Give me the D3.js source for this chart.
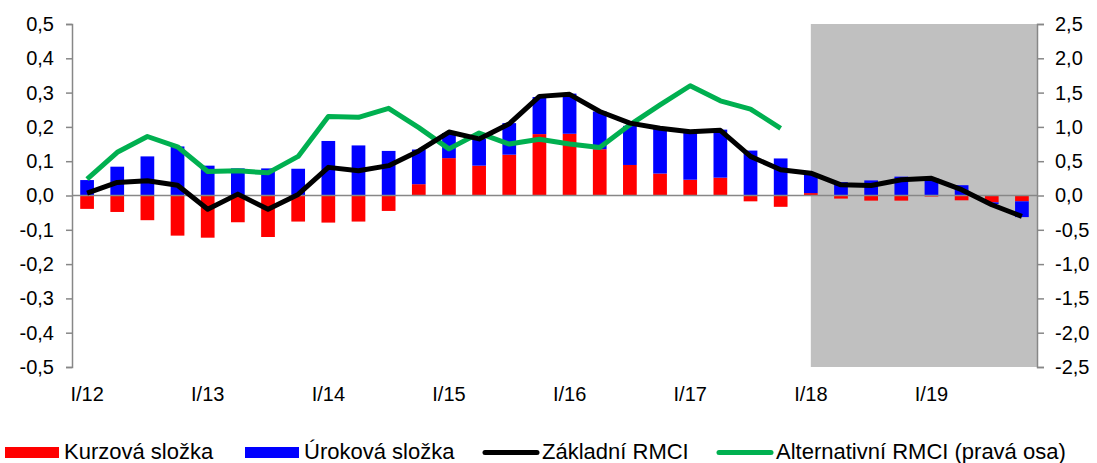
<!DOCTYPE html>
<html>
<head>
  <meta charset="utf-8">
  <title>RMCI</title>
  <script src="https://d3js.org/d3.v7.min.js"></script>
  <style>
    body { margin: 0; background: #fff; }
    text { font-family: "Liberation Sans", Arial, sans-serif; fill: #000; }
  </style>
</head>
<body>
  <script>
    // ctvrtleti I/12 .. IV/19
    var kvartaly = d3.range(32);
    var popisky = ['I/12', 'I/13', 'I/14', 'I/15', 'I/16', 'I/17', 'I/18', 'I/19'];
    var kurzova = [-0.039, -0.048, -0.072, -0.117, -0.123, -0.078, -0.121, -0.076, -0.079, -0.076, -0.045, 0.033,
      0.109, 0.087, 0.119, 0.179, 0.180, 0.135, 0.089, 0.064, 0.046, 0.052, -0.017, -0.033,
      0.007, -0.009, -0.015, -0.015, -0.003, -0.014, -0.020, -0.017];
    var urokova = [0.045, 0.084, 0.114, 0.143, 0.087, 0.079, 0.079, 0.078, 0.159, 0.146, 0.130, 0.101,
      0.073, 0.078, 0.092, 0.108, 0.117, 0.110, 0.114, 0.130, 0.141, 0.140, 0.131, 0.108,
      0.056, 0.039, 0.044, 0.055, 0.051, 0.030, -0.005, -0.046];
    var zakladni = [0.007, 0.038, 0.043, 0.030, -0.040, 0.004, -0.040, 0.003, 0.082, 0.072, 0.087, 0.130,
      0.185, 0.165, 0.209, 0.289, 0.295, 0.245, 0.211, 0.196, 0.186, 0.190, 0.114, 0.075,
      0.065, 0.031, 0.029, 0.046, 0.050, 0.017, -0.027, -0.061];
    var alternativni = [0.24, 0.63, 0.86, 0.71, 0.35, 0.36, 0.33, 0.57, 1.15, 1.14, 1.27, 0.99,
      0.68, 0.91, 0.75, 0.82, 0.75, 0.70, 1.03, 1.32, 1.60, 1.38, 1.26, 0.98];
    var levyTicks = [-0.5, -0.4, -0.3, -0.2, -0.1, 0, 0.1, 0.2, 0.3, 0.4, 0.5];
    var pravyTicks = [-2.5, -2, -1.5, -1, -0.5, 0, 0.5, 1, 1.5, 2, 2.5];
    var zacatekPrognozy = 24;

    var width = 1097, height = 463;
    var svg = d3.select('body').append('svg')
      .attr('width', width).attr('height', height);

    var x = d3.scaleBand().domain(kvartaly).range([72, 1037])
      .paddingInner(0.545).paddingOuter(0.2725);
    var stred = function(i) { return x(i) + x.bandwidth() / 2; };
    var y = d3.scaleLinear().domain([-0.5, 0.5]).range([367, 24]);
    var y2 = d3.scaleLinear().domain([-2.5, 2.5]).range([367, 24]);
    var fmt = function(d) { return d3.format('.1f')(d).replace('.', ',').replace('−', '-'); };

    // prognoza - sede pozadi
    svg.append('rect')
      .attr('x', stred(zacatekPrognozy)).attr('y', y(0.5))
      .attr('width', x.range()[1] - stred(zacatekPrognozy))
      .attr('height', y(-0.5) - y(0.5))
      .attr('fill', '#c0c0c0');

    // sloupce
    var tabulka = kvartaly.map(function(i) { return { kurz: kurzova[i], urok: urokova[i] }; });
    var stack = d3.stack().keys(['kurz', 'urok']).offset(d3.stackOffsetDiverging);
    var barvy = { kurz: '#ff0000', urok: '#0000ff' };
    svg.selectAll('g.serie').data(stack(tabulka)).enter()
      .append('g').attr('class', 'serie')
      .attr('fill', function(d) { return barvy[d.key]; })
      .selectAll('rect').data(function(d) { return d; }).enter()
      .append('rect')
      .attr('x', function(d, i) { return x(i); })
      .attr('width', x.bandwidth())
      .attr('y', function(d) { return y(Math.max(d[0], d[1])); })
      .attr('height', function(d) { return Math.abs(y(d[0]) - y(d[1])); });

    // nulova osa
    svg.append('line')
      .attr('x1', 72).attr('x2', 1037).attr('y1', y(0)).attr('y2', y(0))
      .attr('stroke', '#878787').attr('stroke-width', 1.5);

    // osy
    var levaOsa = d3.axisLeft(y).tickValues(levyTicks).tickFormat(fmt).tickSize(6).tickPadding(12);
    var pravaOsa = d3.axisRight(y2).tickValues(pravyTicks).tickFormat(fmt).tickSize(7).tickPadding(11);
    var gl = svg.append('g').attr('transform', 'translate(72,0)').call(levaOsa);
    var gr = svg.append('g').attr('transform', 'translate(1037,0)').call(pravaOsa);
    [gl, gr].forEach(function(g) {
      g.select('.domain').attr('stroke', '#878787').attr('stroke-width', 1.5);
      g.selectAll('.tick line').attr('stroke', '#878787').attr('stroke-width', 1.5);
      g.selectAll('.tick text').style('font-size', '20px').attr('font-family', null);
    });

    // popisky casove osy
    svg.selectAll('text.kv').data(popisky).enter()
      .append('text').attr('class', 'kv')
      .attr('x', function(d, i) { return stred(i * 4); })
      .attr('y', 401)
      .attr('text-anchor', 'middle')
      .style('font-size', '20px')
      .text(function(d) { return d; });

    // linie
    var linka = d3.line().x(function(d, i) { return stred(i); });
    svg.append('path')
      .attr('d', linka.y(function(d) { return y2(d); })(alternativni))
      .attr('fill', 'none').attr('stroke', '#00b050').attr('stroke-width', 5)
      .attr('stroke-linejoin', 'round');
    svg.append('path')
      .attr('d', linka.y(function(d) { return y(d); })(zakladni))
      .attr('fill', 'none').attr('stroke', '#000').attr('stroke-width', 5)
      .attr('stroke-linejoin', 'round');

    // legenda
    var legenda = [
      { nazev: 'Kurzová složka', barva: '#ff0000', typ: 'rect', x: 5 },
      { nazev: 'Úroková složka', barva: '#0000ff', typ: 'rect', x: 245 },
      { nazev: 'Základní RMCI', barva: '#000', typ: 'line', x: 483 },
      { nazev: 'Alternativní RMCI (pravá osa)', barva: '#00b050', typ: 'line', x: 717 }
    ];
    var lg = svg.selectAll('g.leg').data(legenda).enter()
      .append('g').attr('class', 'leg')
      .attr('transform', function(d) { return 'translate(' + d.x + ',0)'; });
    lg.filter(function(d) { return d.typ === 'rect'; }).append('rect')
      .attr('x', 0).attr('y', 447).attr('width', 54).attr('height', 11)
      .attr('fill', function(d) { return d.barva; });
    lg.filter(function(d) { return d.typ === 'line'; }).append('line')
      .attr('x1', 2).attr('x2', 54).attr('y1', 452.5).attr('y2', 452.5)
      .attr('stroke', function(d) { return d.barva; }).attr('stroke-width', 5)
      .attr('stroke-linecap', 'round');
    lg.append('text')
      .attr('x', 59).attr('y', 459)
      .style('font-size', '22px')
      .text(function(d) { return d.nazev; });
  </script>
</body>
</html>
